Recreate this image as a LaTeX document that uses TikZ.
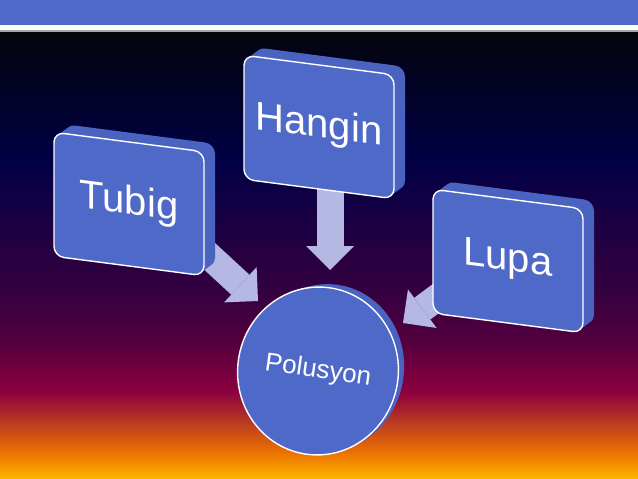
\documentclass[tikz,border=0pt]{standalone}
\usepackage{fontspec}
\setmainfont{Liberation Sans}
\usetikzlibrary{positioning,arrows.meta,shapes.geometric}
\definecolor{bandblue}{HTML}{5069C8}
\definecolor{boxblue}{HTML}{4F69C8}
\definecolor{sideblue}{HTML}{4A63C0}
\definecolor{arrowlav}{HTML}{B4B8E2}
\definecolor{sk0}{HTML}{05050F}
\definecolor{sk1}{HTML}{03031A}
\definecolor{sk2}{HTML}{000045}
\definecolor{sk3}{HTML}{1C0043}
\definecolor{sk4}{HTML}{340040}
\definecolor{sk5}{HTML}{55003F}
\definecolor{sk6}{HTML}{8C003E}
\definecolor{sk7}{HTML}{C0401F}
\definecolor{sk8}{HTML}{EC7000}
\definecolor{sk9}{HTML}{FFB800}
\pgfdeclareverticalshading{skyfade}{100bp}{color(0bp)=(sk9); color(25bp)=(sk9); color(28bp)=(sk8); color(31bp)=(sk7); color(34.7bp)=(sk6); color(40.3bp)=(sk5); color(45.9bp)=(sk4); color(53.3bp)=(sk3); color(60.8bp)=(sk2); color(71.8bp)=(sk1); color(75bp)=(sk0); color(100bp)=(sk0)}
\pgfdeclarelayer{bg}
\pgfdeclarelayer{arr}
\pgfsetlayers{bg,arr,main}
\tikzset{
  cardnode/.style={draw=white, line width=1.4pt, fill=boxblue, rounded corners=10pt, minimum width=150pt, minimum height=124pt, text=white, font=\fontsize{40}{48}\selectfont, yslant=-0.13},
  cardside/.style={fill=sideblue, rounded corners=10pt, minimum width=150pt, minimum height=124pt, yslant=-0.13},
  discnode/.style={ellipse, draw=white, line width=1.4pt, fill=boxblue, minimum width=156pt, minimum height=168pt, text=white, font=\fontsize{26}{31}\selectfont, rotate=-8},
  discside/.style={ellipse, fill=sideblue, minimum width=156pt, minimum height=168pt, rotate=-8},
  feedarrow/.style={draw=arrowlav, line width=27pt, -{Triangle[length=24pt, width=48pt, line width=0pt]}}
}

\begin{document}
\begin{tikzpicture}[x=1pt, y=-1pt]
  \useasboundingbox (0,0) rectangle (638,479);
  \begin{pgfonlayer}{bg}
    \shade[shading=skyfade] (0,31) rectangle (638,479);
    \fill[bandblue] (0,0) rectangle (638,25);
    \fill[white] (0,25) rectangle (638,30);
    \fill[gray!70] (0,30) rectangle (638,31.5);
  \end{pgfonlayer}

  % cards
  \foreach \k in {5,...,1}
    \node[cardside] (tubigside\k) at (129+2.2*\k, 204-1.6*\k) {};
  \node[cardnode] (tubig) at (129,204) {Tubig};
  \foreach \k in {5,...,1}
    \node[cardside] (hanginside\k) at (319+2.2*\k, 127-1.6*\k) {};
  \node[cardnode] (hangin) at (319,127) {Hangin};
  \foreach \k in {5,...,1}
    \node[cardside] (lupaside\k) at (508+2.2*\k, 261-1.6*\k) {};
  \node[cardnode] (lupa) at (508,261) {Lupa};

  % disc
  \foreach \k in {5,...,1}
    \node[discside] (polusyonside\k) at (318+1.6*\k, 371-0.6*\k) {};
  \node[discnode] (polusyon) at (318,371) {Polusyon};

  % arrows
  \begin{pgfonlayer}{arr}
    \coordinate (tubigtip) at (258,301);
    \coordinate (hangintip) at (330,270);
    \coordinate (lupatip) at (403,323);
    \draw[feedarrow] ([yshift=22pt]tubig.center) -- (tubigtip);
    \draw[feedarrow] ([xshift=11pt]hangin.center) -- (hangintip);
    \draw[feedarrow] ([yshift=16pt]lupa.center) -- (lupatip);
  \end{pgfonlayer}
\end{tikzpicture}
\end{document}
